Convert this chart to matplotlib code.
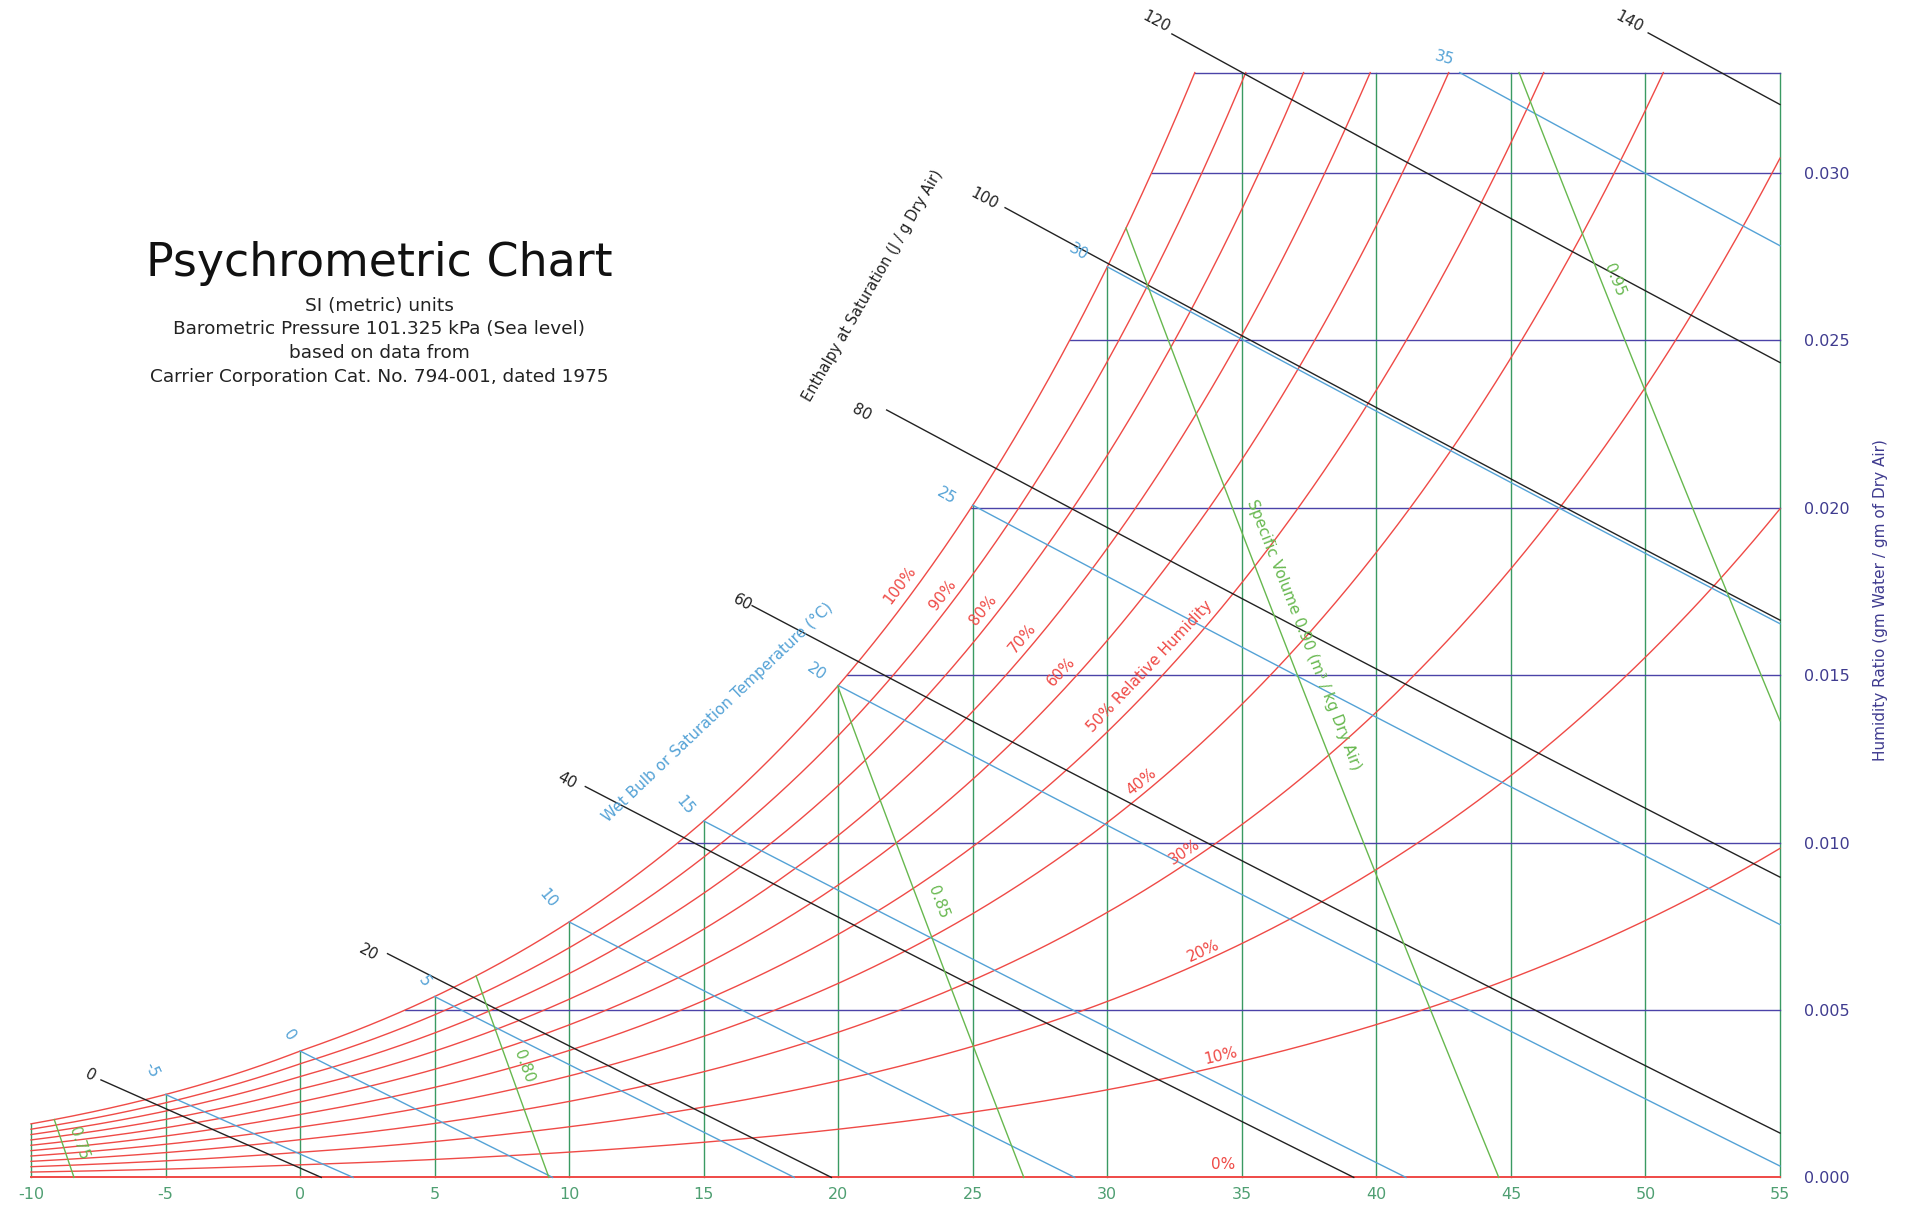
import numpy as np
import matplotlib.pyplot as plt

P_ATM = 101.325  # kPa, sea level

# chart grid / line levels
dry_bulb = [-10, -5, 0, 5, 10, 15, 20, 25, 30, 35, 40, 45, 50, 55]
ratio_ticks = [0.000, 0.005, 0.010, 0.015, 0.020, 0.025, 0.030]
w_top = 0.033
rh_levels = [10, 20, 30, 40, 50, 60, 70, 80, 90, 100]
wet_bulb = [-5, 0, 5, 10, 15, 20, 25, 30, 35]
enthalpy = [0, 20, 40, 60, 80, 100, 120, 140]
enthalpy_t0 = [-7.4, 3.25, 10.6, 16.8, 21.8, 26.2, 32.4, 50.1]  # dry bulb at upper-left end
volume = [0.75, 0.80, 0.85, 0.90, 0.95]

RED = '#ef4a46'
GREEN = '#3a9a62'
VOL_GREEN = '#67b84f'
INDIGO = '#4b43a8'
LBLUE = '#54a2d6'
BLACK = '#222222'


def p_sat(t):
    t = np.asarray(t, dtype=float)
    water = 0.61121 * np.exp((18.678 - t / 234.5) * (t / (257.14 + t)))
    ice = 0.61115 * np.exp((23.036 - t / 333.7) * (t / (279.82 + t)))
    return np.where(t < 0, ice, water)


def w_rh(t, rh):
    pv = rh / 100.0 * p_sat(t)
    return 0.622 * pv / (P_ATM - pv)


def w_sat(t):
    return w_rh(t, 100)


def h_sat(t):
    return 1.006 * t + w_sat(t) * (2501 + 1.86 * t)


def w_wetbulb(t, twb):
    ws = w_sat(twb)
    if twb < 0:
        return ((2830 - 0.24 * twb) * ws - 1.006 * (t - twb)) / (2830 + 1.86 * t - 2.1 * twb)
    return ((2501 - 2.326 * twb) * ws - 1.006 * (t - twb)) / (2501 + 1.86 * t - 4.186 * twb)


def w_volume(t, v):
    return (v * P_ATM / (0.287042 * (t + 273.15)) - 1) / 1.607858


def root(f, a, b):
    fa = f(a)
    for _ in range(80):
        m = 0.5 * (a + b)
        fm = f(m)
        if np.sign(fm) == np.sign(fa):
            a, fa = m, fm
        else:
            b = m
    return 0.5 * (a + b)


def dew_point(w):
    return root(lambda t: w_sat(t) - w, -30, 70)


fig = plt.figure(figsize=(19.11, 12.07), dpi=100)
ax = fig.add_axes([31 / 1911, 29.6 / 1207, 1749 / 1911, 1104.8 / 1207])
ax.set_xlim(-10, 55)
ax.set_ylim(0, w_top)
for s in ax.spines.values():
    s.set_visible(False)

lw = 1.0

# dry bulb verticals
for t in dry_bulb:
    ax.plot([t, t], [0, min(float(w_sat(t)), w_top)], color=GREEN, lw=lw, clip_on=False)

# humidity ratio horizontals
for w in ratio_ticks[1:] + [w_top]:
    ax.plot([dew_point(w), 55], [w, w], color=INDIGO, lw=lw, clip_on=False)

# relative humidity curves
for rh in rh_levels:
    t_end = 55
    if w_rh(55, rh) > w_top:
        t_end = root(lambda t: w_rh(t, rh) - w_top, -10, 55)
    tt = np.linspace(-10, t_end, 400)
    ax.plot(tt, w_rh(tt, rh), color=RED, lw=lw, clip_on=False)
ax.plot([-10, 55], [0, 0], color=RED, lw=1.4, clip_on=False)

# wet bulb lines
for twb in wet_bulb:
    f = lambda t: w_wetbulb(t, twb)
    t0 = twb if w_sat(twb) <= w_top else root(lambda t: f(t) - w_top, twb, 80)
    t1 = min(55, root(f, twb, 200))
    tt = np.linspace(t0, t1, 50)
    ax.plot(tt, f(tt), color=LBLUE, lw=lw, clip_on=False)

# enthalpy lines: drawn through the saturation point having that enthalpy
for h, t0 in zip(enthalpy, enthalpy_t0):
    ts = root(lambda t: h_sat(t) - h, -20, 50)
    f = lambda t: w_wetbulb(t, ts)
    t1 = min(55, root(f, ts, 200))
    tt = np.linspace(t0, t1, 50)
    ax.plot(tt, f(tt), color=BLACK, lw=lw, clip_on=False)

# specific volume lines
for v in volume:
    t0 = root(lambda t: w_volume(t, v) - min(float(w_sat(t)), w_top), -20, 60)
    t1 = min(55, root(lambda t: w_volume(t, v), -20, 100))
    tt = np.linspace(t0, t1, 50)
    ax.plot(tt, w_volume(tt, v), color=VOL_GREEN, lw=lw, clip_on=False)


def angle(t, w, dt, dw):
    p1 = ax.transData.transform((t, w))
    p2 = ax.transData.transform((t + dt, w + dw))
    return np.degrees(np.arctan2(p2[1] - p1[1], p2[0] - p1[0]))


# RH labels, placed just above their curves
rh_text = {100: (22.28, 0.01769), 90: (23.89, 0.01740), 80: (25.37, 0.01695),
           70: (26.86, 0.0161), 60: (28.29, 0.0151), 50: (31.57, 0.01525),
           40: (31.26, 0.01182), 30: (32.87, 0.00973), 20: (33.57, 0.00677),
           10: (34.21, 0.00364)}
for rh in rh_levels:
    t, w = rh_text[rh]
    d = float(w_rh(t + 0.05, rh) - w_rh(t - 0.05, rh))
    s = '50% Relative Humidity' if rh == 50 else f'{rh}%'
    ax.text(t, w, s, color=RED, fontsize=11, rotation=angle(t, w, 0.1, d),
            ha='center', va='center', rotation_mode='anchor')
ax.text(34.3, 0.00017, '0%', color=RED, fontsize=11, ha='center', va='bottom')

# wet bulb labels
wb_text = [(-5.52, 0.00321, -65), (-0.38, 0.00425, -55), (4.60, 0.00586, -55),
           (9.22, 0.00834, -50), (14.29, 0.01112, -50), (19.19, 0.0151, -35),
           (24.03, 0.02035, -30), (28.92, 0.02763, -30), (42.53, 0.03343, -15)]
for twb, (t, w, r) in zip(wet_bulb, wb_text):
    ax.text(t, w, str(twb), color=LBLUE, fontsize=11, rotation=r,
            ha='center', va='center', rotation_mode='anchor', clip_on=False)
ax.text(15.52, 0.0139, 'Wet Bulb or Saturation Temperature (°C)', color=LBLUE,
        fontsize=11, rotation=43.5, ha='center', va='center', rotation_mode='anchor')

# enthalpy labels
h_text = [(-7.81, 0.00306), (2.56, 0.00673), (9.91, 0.01184), (16.45, 0.01716),
          (20.87, 0.02286), (25.44, 0.02922), (31.82, 0.03452), (49.40, 0.03452)]
for h, (t, w) in zip(enthalpy, h_text):
    ax.text(t, w, str(h), color=BLACK, fontsize=11, rotation=-28,
            ha='center', va='center', rotation_mode='anchor', clip_on=False)
ax.text(21.28, 0.02665, 'Enthalpy at Saturation (J / g Dry Air)', color=BLACK,
        fontsize=10.5, rotation=60, ha='center', va='center', rotation_mode='anchor')

# specific volume labels
v_text = [(-8.24, 0.00102), (8.31, 0.00331), (23.71, 0.00823), (37.29, 0.0162), (48.84, 0.0268)]
for v, (t, w) in zip(volume, v_text):
    d = float(w_volume(t + 0.05, v) - w_volume(t - 0.05, v))
    r = angle(t, w, 0.1, d)
    s = 'Specific Volume 0.90 (m³ / kg Dry Air)' if v == 0.90 else f'{v:.2f}'
    ax.text(t, w, s, color=VOL_GREEN, fontsize=11, rotation=r,
            ha='center', va='center', rotation_mode='anchor')

# axes ticks
ax.set_xticks(dry_bulb)
ax.set_xticklabels([str(t) for t in dry_bulb])
ax.tick_params(axis='x', length=0, pad=7, labelcolor='#4f9f72', labelsize=11.5)
ax.yaxis.tick_right()
ax.set_yticks(ratio_ticks)
ax.set_yticklabels([f'{w:.3f}' for w in ratio_ticks])
ax.tick_params(axis='y', length=0, pad=17, labelcolor='#3f3b8f', labelsize=11.5)
fig.text(1881 / 1911, 1 - 600 / 1207, 'Humidity Ratio (gm Water / gm of Dry Air)',
         rotation=90, ha='center', va='center', color='#3f3b8f', fontsize=11)

# title block
fig.text(379 / 1911, 1 - 264 / 1207, 'Psychrometric Chart', ha='center', va='center',
         fontsize=33, color='#111111')
sub = ['SI (metric) units', 'Barometric Pressure 101.325 kPa (Sea level)',
       'based on data from', 'Carrier Corporation Cat. No. 794-001, dated 1975']
for i, line in enumerate(sub):
    fig.text(379 / 1911, 1 - (306 + 23.5 * i) / 1207, line, ha='center', va='center',
             fontsize=13.3, color='#222222')

fig.savefig('out.png', dpi=100)
